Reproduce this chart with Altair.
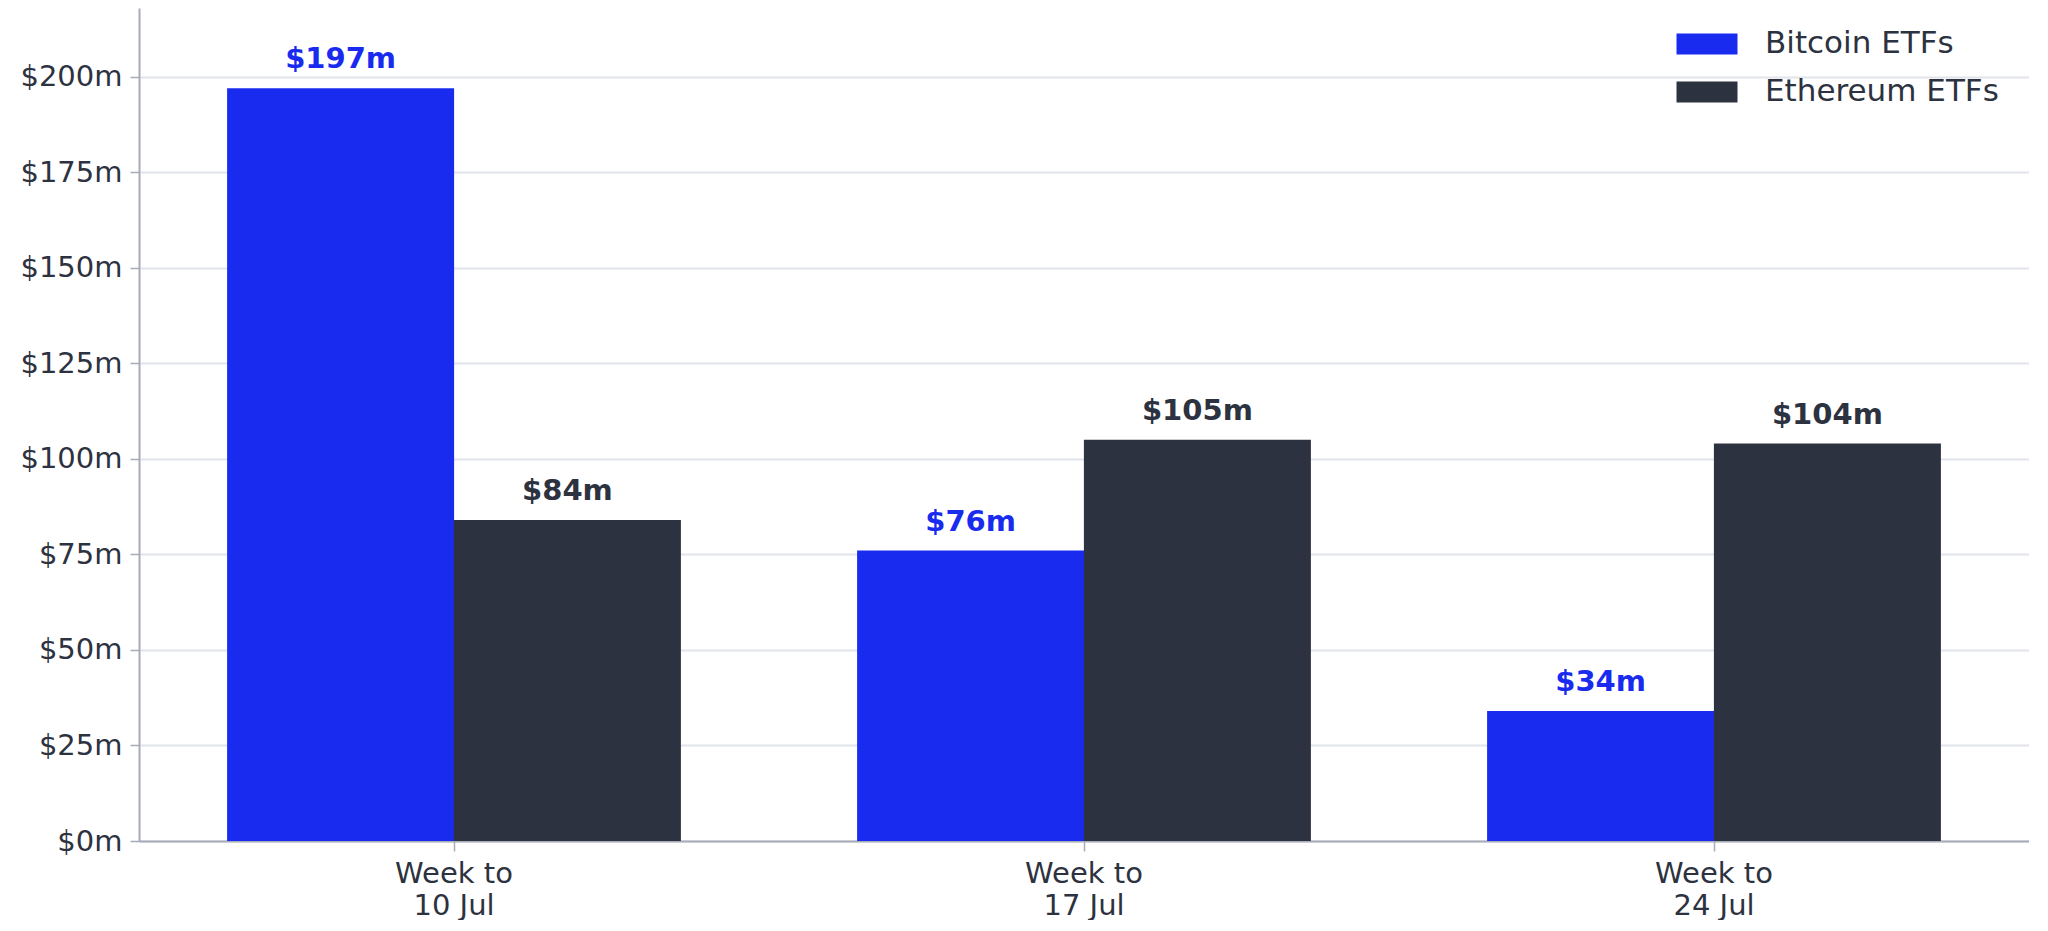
import altair as alt
import pandas as pd

weeks = ["Week to 10 Jul", "Week to 17 Jul", "Week to 24 Jul"]
series = ["Bitcoin ETFs", "Ethereum ETFs"]
bitcoin = [197, 76, 34]
ethereum = [84, 105, 104]
y_ticks = [0, 25, 50, 75, 100, 125, 150, 175, 200]
colors = ["#1a2bf0", "#2d3240"]

rows = []
for w, b, e in zip(weeks, bitcoin, ethereum):
    rows.append({"week": w, "series": series[0], "value": b})
    rows.append({"week": w, "series": series[1], "value": e})
df = pd.DataFrame(rows)

FONT = "DejaVu Sans"
TXT = "#2d3240"

base = alt.Chart(df).encode(
    x=alt.X(
        "week:N",
        sort=weeks,
        title=None,
        scale=alt.Scale(paddingInner=0.28, paddingOuter=0.14),
        axis=alt.Axis(
            labelAngle=0,
            labelExpr="[slice(datum.label, 0, 7), slice(datum.label, 8)]",
            labelFontSize=29,
            labelLineHeight=32,
            labelBaseline="top",
            labelPadding=8,
            labelColor=TXT,
            labelFont=FONT,
            tickSize=10,
            tickColor="#a8abb8",
            tickWidth=1.5,
            domainColor="#a8abb8",
            domainWidth=2,
            grid=False,
        ),
    ),
    xOffset=alt.XOffset("series:N", sort=series,
                        scale=alt.Scale(paddingInner=0, paddingOuter=0)),
    y=alt.Y(
        "value:Q",
        title=None,
        scale=alt.Scale(domain=[0, 218], nice=False),
        axis=alt.Axis(
            values=y_ticks,
            labelExpr="'$' + datum.value + 'm'",
            labelFontSize=29,
            labelColor=TXT,
            labelFont=FONT,
            labelPadding=8,
            tickSize=9,
            tickColor="#a8abb8",
            tickWidth=1.5,
            domainColor="#a8abb8",
            domainWidth=2,
            gridColor="#e1e4ea",
            gridWidth=2,
        ),
    ),
)

bars = base.mark_bar(size=227).encode(
    color=alt.Color(
        "series:N",
        sort=series,
        scale=alt.Scale(domain=series, range=colors),
        legend=alt.Legend(
            title=None,
            orient="none",
            legendX=1547,
            legendY=15,
            symbolType="M-1.452,-0.5H1.452V0.5H-1.452Z",
            symbolSize=1764,
            symbolStrokeWidth=0,
            labelFontSize=31,
            labelFont=FONT,
            labelColor=TXT,
            labelOffset=37,
            labelLimit=500,
            rowPadding=12,
            padding=0,
        ),
    )
)

labels = base.mark_text(
    font=FONT, fontSize=29, fontWeight="bold", baseline="alphabetic", dy=-20
).encode(
    text=alt.Text("label:N"),
    color=alt.Color("series:N", sort=series,
                    scale=alt.Scale(domain=series, range=colors), legend=None),
).transform_calculate(label="'$' + datum.value + 'm'")

chart = (
    alt.layer(bars, labels)
    .properties(width=1890, height=833, padding={"left": 11, "top": 0, "right": 0, "bottom": 0})
    .configure(background="white")
    .configure_view(stroke=None)
)

chart.save("out.html", embed_options={"renderer": "svg", "actions": False})
